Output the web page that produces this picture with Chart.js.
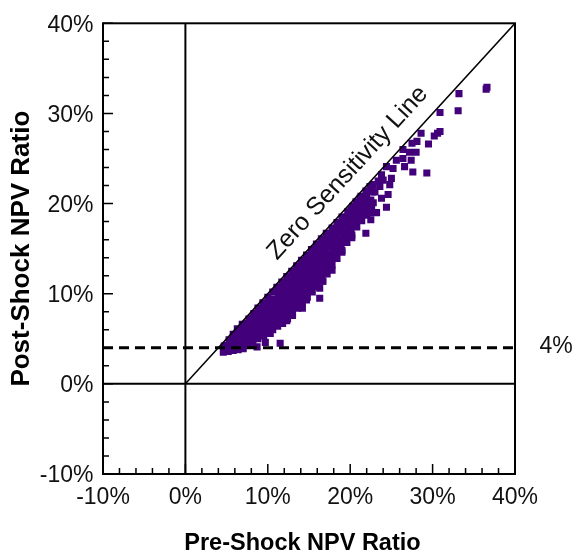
<!DOCTYPE html>
<html>
<head>
<meta charset="utf-8">
<script src="https://cdn.jsdelivr.net/npm/chart.js@4"></script>
<style>
  html, body { margin: 0; padding: 0; background: #fff; }
  #wrap { width: 574px; height: 556px; }
</style>
</head>
<body>
<div id="wrap"><canvas id="npvChart"></canvas></div>
<script>
'use strict';

// axis range and labelled ticks, in %
const axisMin = -10;
const axisMax = 40;
const majorTicks = [-10, 0, 10, 20, 30, 40];
const thresholdRatio = 4;

// [pre-shock, post-shock] NPV ratio pairs, in %
const bandLow = [
    [4.6, 3.5], [4.7, 4.2],
    [5.2, 3.6], [5.1, 4.25], [5.3, 4.9],
    [5.8, 3.7], [5.7, 4.3], [5.9, 4.9], [5.8, 5.5],
    [6.4, 3.8], [6.3, 4.4], [6.5, 5.0], [6.4, 5.6], [6.3, 6.1],
    [7.0, 4.0], [6.9, 4.7], [7.1, 5.4], [7.0, 6.1], [6.9, 6.6],
    [7.6, 4.3], [7.5, 4.9], [7.7, 5.5], [7.6, 6.1], [7.5, 6.7], [7.7, 7.2],
    [8.2, 4.7], [8.1, 5.35], [8.3, 6.0], [8.2, 6.6], [8.1, 7.3], [8.3, 7.8],
    [8.8, 5.0], [8.7, 5.6], [8.9, 6.2], [8.8, 6.8], [8.7, 7.4], [8.9, 8.0], [8.8, 8.4],
    [9.4, 5.4], [9.3, 6.0], [9.5, 6.6], [9.4, 7.2], [9.3, 7.9], [9.5, 8.5], [9.4, 9.0]
];

const bandMid = [
    [10.0, 5.7], [9.9, 6.4], [10.1, 7.0], [10.0, 7.7], [9.9, 8.4], [10.1, 9.1], [10.0, 9.6],
    [10.6, 6.0], [10.5, 6.7], [10.7, 7.4], [10.6, 8.0], [10.5, 8.7], [10.7, 9.4], [10.6, 10.2],
    [11.2, 6.4], [11.1, 7.0], [11.3, 7.7], [11.2, 8.3], [11.1, 9.0], [11.3, 9.6], [11.2, 10.3], [11.1, 10.7],
    [11.8, 6.7], [11.7, 7.4], [11.9, 8.1], [11.8, 8.8], [11.7, 9.4], [11.9, 10.1], [11.8, 10.8], [11.7, 11.3],
    [12.4, 7.2], [12.3, 7.9], [12.5, 8.6], [12.4, 9.3], [12.3, 10.0], [12.5, 10.7], [12.4, 11.4], [12.3, 11.9],
    [13.0, 7.8], [12.9, 8.5], [13.1, 9.2], [13.0, 9.9], [12.9, 10.6], [13.1, 11.3], [13.0, 12.0], [12.9, 12.5],
    [13.6, 8.4], [13.5, 9.1], [13.7, 9.8], [13.6, 10.5], [13.5, 11.2], [13.7, 11.9], [13.6, 12.6], [13.5, 13.1],
    [14.2, 9.0], [14.1, 9.7], [14.3, 10.4], [14.2, 11.1], [14.1, 11.8], [14.3, 12.5], [14.2, 13.2], [14.1, 13.7],
    [14.8, 9.6], [14.7, 10.3], [14.9, 11.0], [14.8, 11.7], [14.7, 12.4], [14.9, 13.1], [14.8, 13.8], [14.7, 14.3],
    [15.4, 10.2], [15.3, 10.9], [15.5, 11.6], [15.4, 12.3], [15.3, 13.0], [15.5, 13.7], [15.4, 14.4], [15.3, 14.9]
];

const bandHigh = [
    [16.0, 10.8], [15.9, 11.5], [16.1, 12.2], [16.0, 12.9], [15.9, 13.6], [16.1, 14.3], [16.0, 15.0], [15.9, 15.5],
    [16.6, 11.4], [16.5, 12.1], [16.7, 12.8], [16.6, 13.5], [16.5, 14.2], [16.7, 14.9], [16.6, 15.6], [16.5, 16.1],
    [17.2, 12.2], [17.1, 12.9], [17.3, 13.6], [17.2, 14.3], [17.1, 15.0], [17.3, 15.7], [17.2, 16.4], [17.1, 16.7],
    [17.8, 13.2], [17.7, 13.9], [17.9, 14.6], [17.8, 15.3], [17.7, 16.0], [17.9, 16.7], [17.8, 17.3],
    [18.4, 13.9], [18.3, 14.6], [18.5, 15.3], [18.4, 16.0], [18.3, 16.7], [18.5, 17.4], [18.4, 17.9],
    [19.0, 14.8], [18.9, 15.5], [19.1, 16.2], [19.0, 16.9], [18.9, 17.6], [19.1, 18.2], [19.0, 18.5],
    [19.6, 15.7], [19.5, 16.4], [19.7, 17.1], [19.6, 17.8], [19.5, 18.5], [19.7, 19.1],
    [20.2, 16.5], [20.1, 17.2], [20.3, 17.9], [20.2, 18.6], [20.1, 19.3], [20.3, 19.7],
    [20.8, 17.4], [20.7, 18.1], [20.9, 18.8], [20.8, 19.5], [20.7, 20.2],
    [21.4, 18.1], [21.3, 18.8], [21.5, 19.5], [21.4, 20.2], [21.3, 20.8],
    [22.0, 18.7], [21.9, 19.4], [22.1, 20.1], [22.0, 20.8], [21.9, 21.4],
    [22.6, 19.6], [22.5, 20.4], [22.7, 21.3]
];

const scattered = [
    [5.4, 3.9], [7.0, 3.9], [7.9, 4.3], [8.7, 4.1], [9.7, 4.6], [11.5, 4.5],
    [9.5, 5.3], [10.3, 5.6], [12.3, 7.0], [13.0, 7.6], [14.2, 8.4], [14.7, 9.3],
    [16.3, 9.5], [16.3, 10.6], [16.7, 11.4], [17.8, 12.6], [19.0, 14.6], [20.2, 16.2],
    [21.9, 16.7], [22.5, 18.2], [22.4, 19.0], [23.2, 19.0], [24.4, 19.6], [22.8, 20.1],
    [22.0, 20.1], [23.8, 20.6], [24.6, 21.0], [21.2, 20.6], [22.4, 21.9], [23.6, 21.9],
    [24.8, 22.1], [22.8, 22.1], [23.0, 21.3], [23.4, 22.5], [24.0, 22.6], [25.0, 22.8],
    [23.8, 23.2], [24.4, 24.1], [25.2, 23.9], [26.6, 24.1], [27.6, 23.5], [29.3, 23.4],
    [25.6, 24.8], [26.4, 25.0], [27.4, 24.8], [26.4, 26.0], [27.2, 25.7], [28.0, 25.7],
    [27.5, 26.7], [28.1, 26.9], [29.5, 26.6], [28.6, 27.8], [30.2, 27.5], [30.6, 27.8],
    [30.9, 28.0], [30.9, 30.1], [33.1, 30.3], [33.2, 32.2], [36.5, 32.7], [36.6, 32.9]
];

const inkColor = '#111111';
const dotColor = '#42007a';

Chart.defaults.font.family = '"Liberation Sans", Arial, sans-serif';
Chart.defaults.color = inkColor;

const npvPoints = [...bandLow, ...bandMid, ...bandHigh, ...scattered].map(p => ({ x: p[0], y: p[1] }));

// frame, inward ticks and the two text notes
const chartFrame = {
    id: 'chartFrame',
    afterDatasetsDraw(chart) {
        const { ctx, chartArea: area, scales: { x, y } } = chart;
        ctx.save();
        ctx.strokeStyle = '#000';
        ctx.lineWidth = 2;
        ctx.strokeRect(area.left, area.top, area.right - area.left, area.bottom - area.top);

        ctx.lineWidth = 1.5;
        ctx.beginPath();
        x.ticks.forEach(t => {
            const px = x.getPixelForValue(t.value);
            const len = majorTicks.includes(t.value) ? 10 : 6;
            ctx.moveTo(px, area.bottom);
            ctx.lineTo(px, area.bottom - len);
        });
        y.ticks.forEach(t => {
            const py = y.getPixelForValue(t.value);
            const len = majorTicks.includes(t.value) ? 10 : 6;
            ctx.moveTo(area.left, py);
            ctx.lineTo(area.left + len, py);
        });
        ctx.stroke();

        // label along the 45 degree line
        const x0 = x.getPixelForValue(0), y0 = y.getPixelForValue(0);
        const x1 = x.getPixelForValue(axisMax), y1 = y.getPixelForValue(axisMax);
        const angle = Math.atan2(y1 - y0, x1 - x0);
        ctx.fillStyle = inkColor;
        ctx.textAlign = 'center';
        ctx.textBaseline = 'middle';
        ctx.save();
        ctx.font = '25px "Liberation Sans", Arial, sans-serif';
        ctx.translate(x.getPixelForValue(19.7), y.getPixelForValue(23.4));
        ctx.rotate(angle);
        ctx.fillText('Zero Sensitivity Line', 0, 0);
        ctx.restore();

        ctx.font = '23px "Liberation Sans", Arial, sans-serif';
        ctx.fillText(thresholdRatio + '%', area.right + 41, y.getPixelForValue(thresholdRatio) - 1);
        ctx.restore();
    }
};

const refLine = (data, width, dash) => ({
    data,
    showLine: true,
    borderColor: '#000',
    borderWidth: width,
    borderDash: dash || [],
    pointRadius: 0,
    order: 1
});

new Chart(document.getElementById('npvChart'), {
    type: 'scatter',
    data: {
        datasets: [
            {
                data: npvPoints,
                pointStyle: 'rect',
                pointRadius: 5,
                borderWidth: 0,
                backgroundColor: dotColor,
                order: 2
            },
            refLine([{ x: axisMin, y: 0 }, { x: axisMax, y: 0 }], 2),
            refLine([{ x: 0, y: axisMin }, { x: 0, y: axisMax }], 2),
            refLine([{ x: 0, y: 0 }, { x: axisMax, y: axisMax }], 1.5),
            refLine([{ x: axisMin, y: thresholdRatio }, { x: axisMax, y: thresholdRatio }], 3, [10, 6])
        ]
    },
    plugins: [chartFrame],
    options: {
        responsive: true,
        maintainAspectRatio: false,
        animation: false,
        layout: { padding: { top: 16, right: 59, bottom: 0, left: 0 } },
        plugins: {
            legend: { display: false },
            tooltip: { enabled: false }
        },
        scales: {
            x: {
                type: 'linear',
                min: axisMin,
                max: axisMax,
                afterFit(scale) { scale.height = 82; },
                grid: { display: false, drawTicks: false },
                border: { display: false },
                ticks: {
                    stepSize: 2,
                    autoSkip: false,
                    maxRotation: 0,
                    padding: 10,
                    color: inkColor,
                    font: { size: 23 },
                    callback: v => majorTicks.includes(v) ? v + '%' : ''
                },
                title: {
                    display: true,
                    text: 'Pre-Shock NPV Ratio  ',
                    color: '#000',
                    font: { size: 23.5, weight: 'bold' },
                    padding: { top: 0, bottom: -2 }
                }
            },
            y: {
                type: 'linear',
                min: axisMin,
                max: axisMax,
                afterFit(scale) { scale.width = 103; },
                grid: { display: false, drawTicks: false },
                border: { display: false },
                ticks: {
                    stepSize: 2,
                    autoSkip: false,
                    padding: 9.5,
                    labelOffset: 2,
                    color: inkColor,
                    font: { size: 23 },
                    callback: v => majorTicks.includes(v) ? v + '%' : ''
                },
                title: {
                    display: true,
                    text: 'Post-Shock NPV Ratio',
                    color: '#000',
                    font: { size: 26, weight: 'bold' },
                    padding: { top: 6.5, bottom: 0 }
                }
            }
        }
    }
});
</script>
</body>
</html>
